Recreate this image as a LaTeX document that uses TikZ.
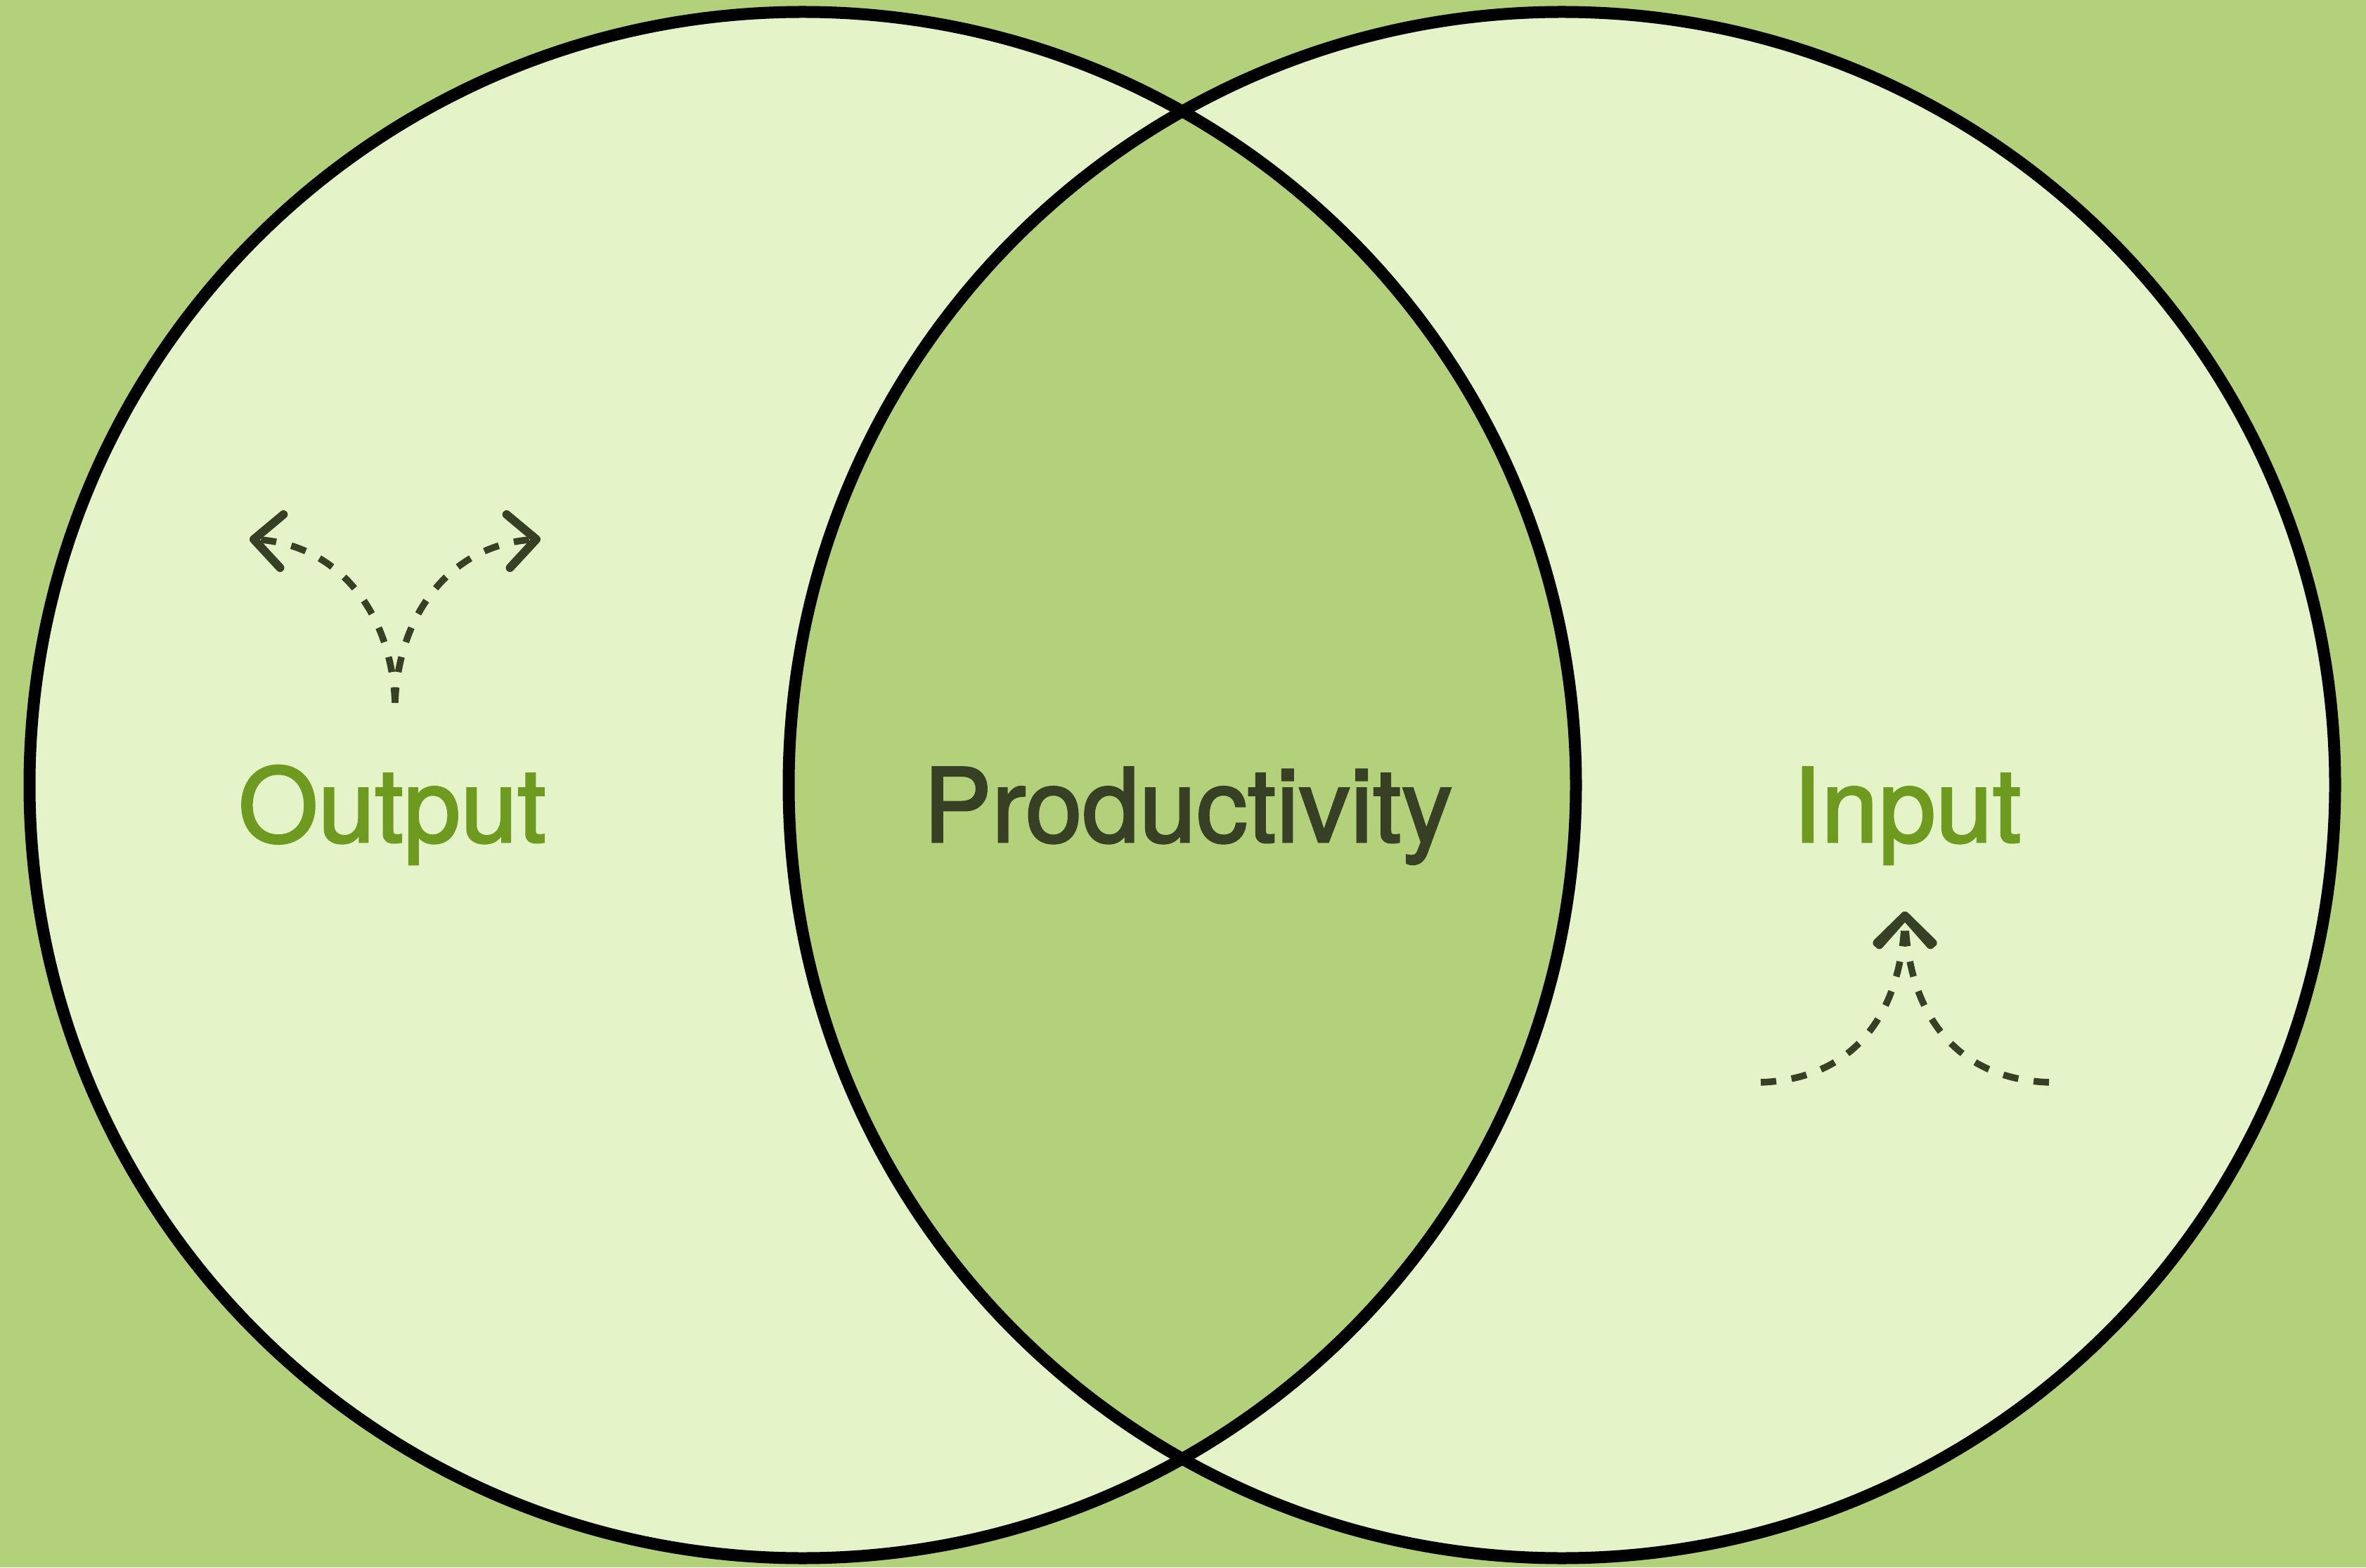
\documentclass[tikz,border=0pt]{standalone}
\usepackage{fontspec}
\setmainfont[FakeBold=2]{TeX Gyre Heros}
\usetikzlibrary{arrows.meta}
\definecolor{leaf}{HTML}{B3D17B}
\definecolor{pale}{HTML}{E4F3C8}
\definecolor{sprout}{HTML}{6E9A1F}
\definecolor{bark}{HTML}{373F24}

\begin{document}
\begin{tikzpicture}[font=\fontsize{41.5pt}{50pt}\selectfont,
        ring/.style={line width=0.17cm},
        flow/.style={bark,line width=0.095cm,dash pattern=on 0.22cm off 0.22cm,
          -{Straight Barb[length=0.4cm,width=0.76cm,line width=0.12cm,round]}}]
        \fill[leaf] (0,0) rectangle (33.66,22.30);
        \fill[pale] (11.42,11.13) circle (11);
        \fill[pale] (22.22,11.13) circle (11);
        \begin{scope}
          \clip (11.42,11.13) circle (11);
          \fill[leaf] (22.22,11.13) circle (11);
        \end{scope}
        \draw[ring] (11.42,11.13) circle (11);
        \draw[ring] (22.22,11.13) circle (11);
        \node (output) at (5.58,10.32) [anchor=base,text=sprout] {Output};
        \node (prod) at (16.90,10.32) [anchor=base,text=bark] {Productivity};
        \node (input) at (27.13,10.32) [anchor=base,text=sprout] {Input};
        \coordinate (out-root) at (5.62,12.30);
        \coordinate (out-left) at (3.55,14.63);
        \coordinate (out-right) at (7.69,14.63);
        \coordinate (in-tip) at (27.10,9.33);
        \coordinate (in-left) at (25.05,6.90);
        \coordinate (in-right) at (29.15,6.90);
        \draw[flow] (out-root) .. controls (5.57,13.60) and (4.80,14.55) .. (out-left);
        \draw[flow] (out-root) .. controls (5.67,13.60) and (6.44,14.55) .. (out-right);
        \draw[flow] (in-left) .. controls (26.40,6.95) and (27.05,7.90) .. (in-tip);
        \draw[flow] (in-right) .. controls (27.80,6.95) and (27.15,7.90) .. (in-tip);
      \end{tikzpicture}
\end{document}
